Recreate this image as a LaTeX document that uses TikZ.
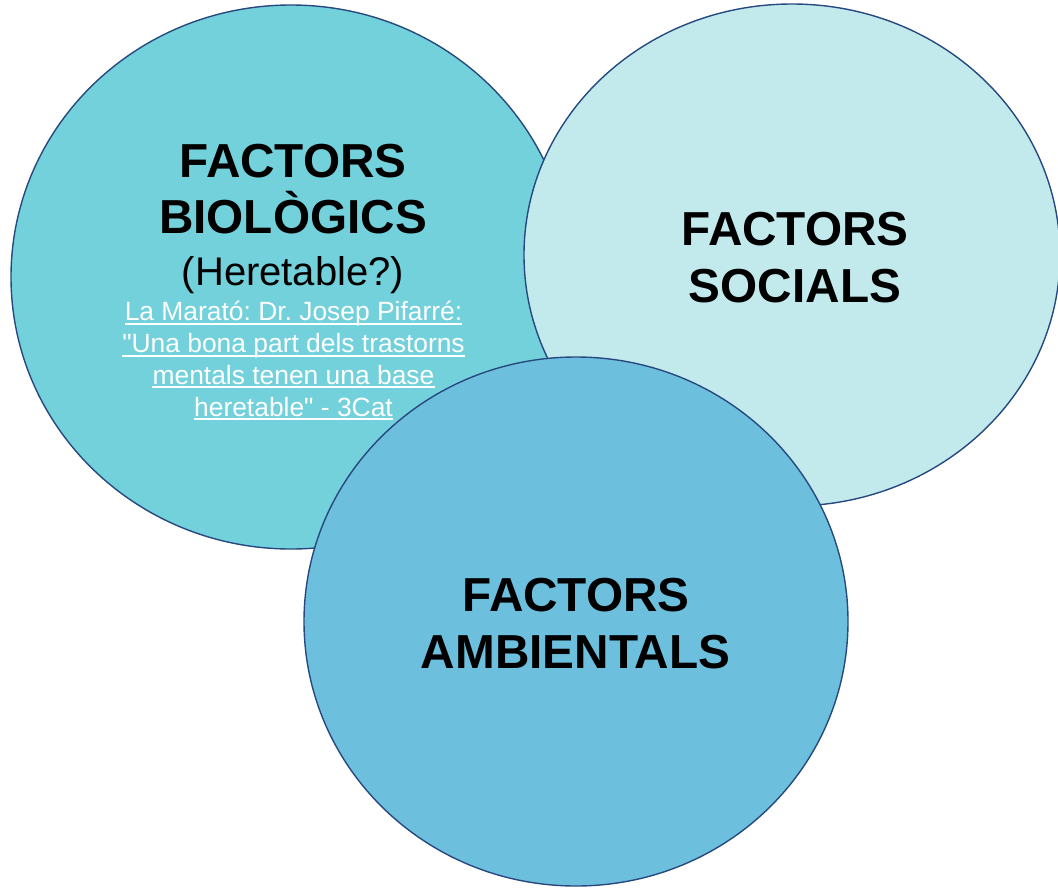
\documentclass[tikz,border=0pt]{standalone}
\usepackage{fontspec}
\setmainfont{Liberation Sans}
% same face without TeX ligatures, so straight quotes stay straight
\newfontfamily\plainsans{Liberation Sans}
\frenchspacing
\usetikzlibrary{shapes.geometric}
\definecolor{bioFill}{HTML}{72D1DB}
\definecolor{socFill}{HTML}{C2EAED}
\definecolor{ambFill}{HTML}{6DBFDE}
\definecolor{rimBlue}{HTML}{27497F}
\begin{document}
\begin{tikzpicture}[x=1pt,y=-1pt,
  factor/.style={ellipse, draw=rimBlue, line width=1.4pt, inner sep=0pt, outer sep=0pt},
  headline/.style={anchor=base, inner sep=0pt, font=\fontsize{47.7}{56}\selectfont\bfseries},
  subline/.style={anchor=base, inner sep=0pt, font=\fontsize{40}{47}\selectfont},
  linkline/.style={anchor=base, inner sep=0pt, text=white, font=\plainsans\frenchspacing\fontsize{26.4}{31}\selectfont},
  underbar/.style={white, line width=2pt}]
\useasboundingbox (0,0) rectangle (1058,887);

% the three overlapping factor discs, back to front
\node[factor, fill=bioFill, minimum width=560pt, minimum height=544pt] (bio) at (291,277) {};
\node[factor, fill=socFill, minimum width=536pt, minimum height=502pt] (soc) at (792,255) {};

% biological factors text (drawn before the front disc covers part of it)
\node[headline] (bioA) at (293,177.7) {FACTORS};
\node[headline] (bioB) at (293,233) {BIOLÒGICS};
\node[subline]  (bioC) at (293,285) {(Heretable?)};
\node[linkline] (lk1) at (293.5,320.5) {La Marató: Dr. Josep Pifarré:};
\node[linkline] (lk2) at (293.5,352.5) {"Una bona part dels trastorns};
\node[linkline] (lk3) at (293.5,384) {mentals tenen una base};
\node[linkline] (lk4) at (293.5,416) {heretable" - 3Cat};
\foreach \l in {lk1,lk2,lk3,lk4}
  \draw[underbar] ([yshift=-3pt]\l.base west) -- ([yshift=-3pt]\l.base east);

% social factors text
\node[headline] (socA) at (795,245) {FACTORS};
\node[headline] (socB) at (795,302.7) {SOCIALS};

% environmental factors disc in front
\node[factor, fill=ambFill, minimum width=544pt, minimum height=529pt] (amb) at (576,621.5) {};
\node[headline] (ambA) at (576,611.7) {FACTORS};
\node[headline] (ambB) at (575.5,668) {AMBIENTALS};
\end{tikzpicture}
\end{document}
